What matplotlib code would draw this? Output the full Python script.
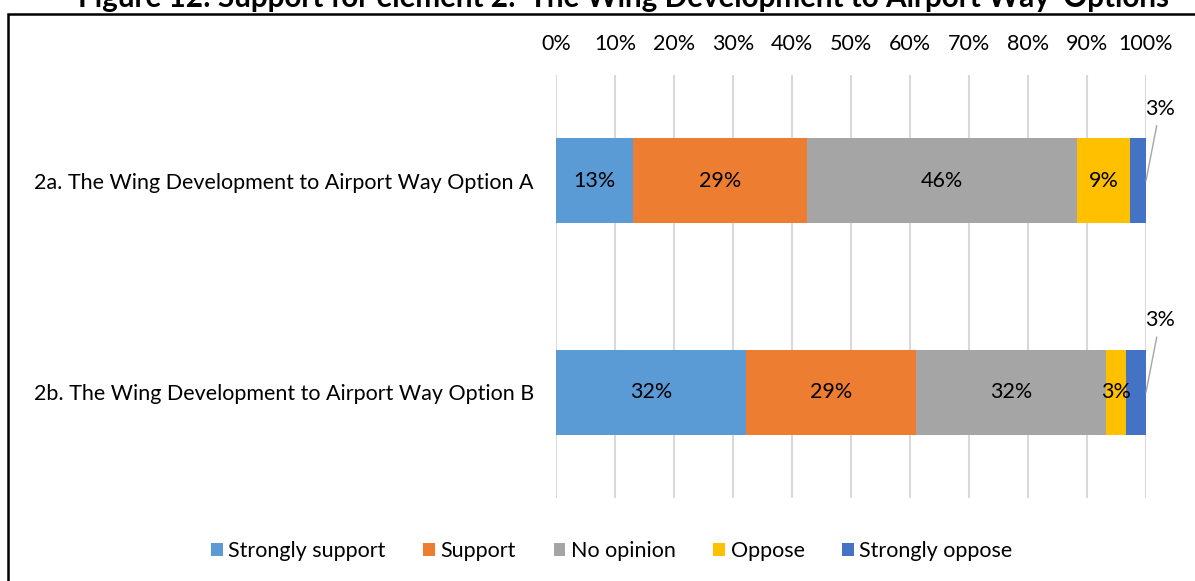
"""
Figure 12 - element 2 destek anketi, yatay yığılmış çubuk grafik
"""
import matplotlib.pyplot as plt
from matplotlib.patches import Rectangle

# Veri
options = ['2b. The Wing Development to Airport Way Option B',
           '2a. The Wing Development to Airport Way Option A']
responses = ['Strongly support', 'Support', 'No opinion', 'Oppose', 'Strongly oppose']
strongly_support = [32.2, 13.1]
support = [28.8, 29.4]
no_opinion = [32.2, 45.8]
oppose = [3.4, 9.0]
strongly_oppose = [3.4, 2.7]
colors = ['#5B9BD5', '#ED7D31', '#A5A5A5', '#FFC000', '#4472C4']
xticks = list(range(0, 101, 10))

plt.rcParams['font.family'] = ['Lato', 'DejaVu Sans']
FS = 15.5

fig = plt.figure(figsize=(11.95, 5.81), dpi=100)
ax = fig.add_axes([0.4653, 0.1429, 0.4937, 0.7281])

series = [strongly_support, support, no_opinion, oppose, strongly_oppose]
ypos = list(range(len(options)))
left = [0.0] * len(options)
for name, vals, col in zip(responses, series, colors):
    bars = ax.barh(ypos, vals, left=left, height=0.4, color=col, label=name, zorder=3)
    for i, (b, v) in enumerate(zip(bars, vals)):
        # en küçük "Strongly oppose" dilimleri dışarıda etiketlenir
        if name == 'Strongly oppose':
            ax.annotate(f'{v:.0f}%', xy=(left[i] + v, ypos[i]),
                        xytext=(14, 62), textcoords='offset pixels',
                        ha='center', va='bottom', fontsize=FS,
                        arrowprops=dict(arrowstyle='-', color='#A5A5A5', lw=1,
                                        shrinkA=3, shrinkB=0))
        else:
            ax.text(left[i] + v / 2, ypos[i], f'{v:.0f}%', ha='center', va='center',
                    fontsize=FS, color='black', zorder=4)
    left = [l + v for l, v in zip(left, vals)]

ax.set_xlim(0, 100)
ax.set_ylim(-0.5, 1.5)
ax.set_xticks(xticks)
ax.set_xticklabels([f'{t}%' for t in xticks])
ax.set_yticks(ypos)
ax.set_yticklabels(options)
ax.xaxis.tick_top()
ax.tick_params(axis='x', length=0, pad=15, labelsize=FS)
ax.tick_params(axis='y', length=0, pad=16, labelsize=FS)
ax.grid(axis='x', color='#D9D9D9', linewidth=1.5, zorder=0)
for s in ax.spines.values():
    s.set_visible(False)

fig.legend(loc='center', bbox_to_anchor=(0.512, 1 - 551 / 581), ncol=5, frameon=False,
           fontsize=FS, handlelength=0.55, handleheight=0.55, handletextpad=0.25,
           columnspacing=1.75)

# Çerçeve ve başlık
fig.patches.append(Rectangle((8 / 1195, -0.1), 1.1, 1.1 - 14 / 581, transform=fig.transFigure,
                             fill=False, edgecolor='black', linewidth=1.8))
fig.text(0.522, 1 - 7 / 581, "Figure 12: Support for element 2: 'The Wing Development to Airport Way' Options",
         ha='center', va='baseline', fontsize=21.3, fontweight='bold')

plt.savefig('out.png', dpi=100)
